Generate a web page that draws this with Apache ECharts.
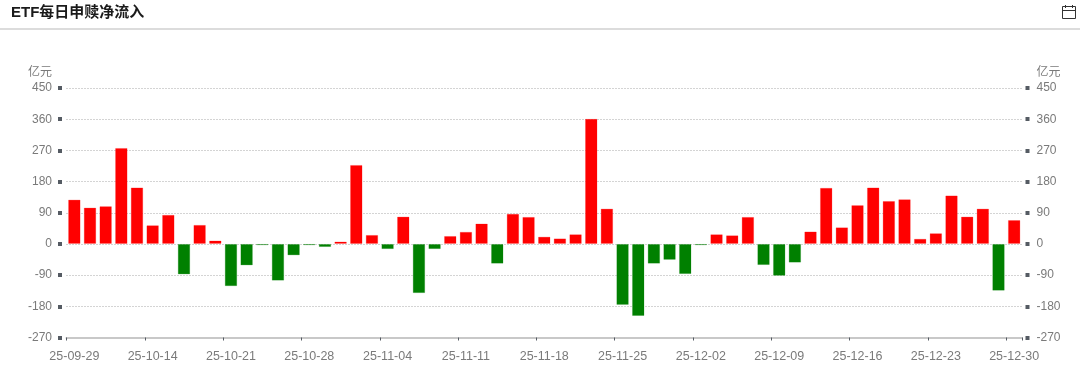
<!DOCTYPE html>
<html>
<head>
<meta charset="utf-8">
<style>html,body{margin:0;padding:0;background:#fff}#c{width:1080px;height:368px}</style>
<script src="https://cdn.jsdelivr.net/npm/echarts@6/dist/echarts.min.js"></script>
</head>
<body>
<div id="c"></div>
<script>
const dates = ['25-09-29','25-09-30','25-10-09','25-10-10','25-10-13','25-10-14','25-10-15','25-10-16','25-10-17','25-10-20','25-10-21','25-10-22','25-10-23','25-10-24','25-10-27','25-10-28','25-10-29','25-10-30','25-10-31','25-11-03','25-11-04','25-11-05','25-11-06','25-11-07','25-11-10','25-11-11','25-11-12','25-11-13','25-11-14','25-11-17','25-11-18','25-11-19','25-11-20','25-11-21','25-11-24','25-11-25','25-11-26','25-11-27','25-11-28','25-12-01','25-12-02','25-12-03','25-12-04','25-12-05','25-12-08','25-12-09','25-12-10','25-12-11','25-12-12','25-12-15','25-12-16','25-12-17','25-12-18','25-12-19','25-12-22','25-12-23','25-12-24','25-12-25','25-12-26','25-12-29','25-12-30'];
const netFlow = [128,105,109,277,163,54,84,-88,55,10,-122,-62,-4,-106,-33,-4,-9,7,228,26,-15,79,-142,-15,23,35,59,-57,87,78,21,16,28,361,102,-176,-208,-57,-46,-87,-4,28,25,78,-61,-92,-54,36,162,48,112,163,124,129,15,31,140,79,102,-135,69];
const unit = '亿元';
const titleText = 'ETF每日申赎净流入';
const upColor = '#ff0000', downColor = '#008000';
const upEdge = 'rgba(255,0,0,0.22)', downEdge = 'rgba(0,128,0,0.22)';
const font = '"Liberation Sans", "Noto Sans CJK SC", sans-serif';

function yAxis(position, offset, showSplit) {
  return {
    type: 'value', position, offset, min: -270, max: 450, interval: 90,
    name: unit,
    nameLocation: 'end', nameGap: 9,
    nameTextStyle: {color: '#7a7a7a', fontSize: 12, fontFamily: font,
      align: position === 'left' ? 'right' : 'left',
      padding: position === 'left' ? [0,10,0,0] : [0,0,0,11]},
    axisLine: {show: false},
    axisTick: {show: true, length: 4, lineStyle: {color: '#555b63', width: 4}},
    axisLabel: {color: '#7a7a7a', fontSize: 12, fontFamily: font, margin: position === 'left' ? 10 : 11},
    splitLine: {show: showSplit, lineStyle: {type: [1,2], color: '#a8a8a8', width: 1}}
  };
}

const chart = echarts.init(document.getElementById('c'), null, {renderer: 'canvas'});
chart.setOption({
  animation: false,
  backgroundColor: '#fff',
  grid: {left: 66.5, right: 58, top: 88, bottom: 30.5},
  xAxis: {
    type: 'category', data: dates,
    axisLine: {onZero: false, lineStyle: {color: '#c8c8c8', width: 2}},
    axisTick: {show: true, interval: 4, length: 3, lineStyle: {color: '#555b63', width: 1}},
    axisLabel: {interval: 4, color: '#7a7a7a', fontSize: 12.5, fontFamily: font, margin: 13, hideOverlap: false},
    splitLine: {show: false}
  },
  yAxis: [yAxis('left', 4.5, true), yAxis('right', 3.5, false)],
  series: [{
    type: 'bar', yAxisIndex: 0, barWidth: 12.5,
    data: netFlow.map(v => ({
      value: v,
      itemStyle: {color: v >= 0 ? upColor : downColor, borderWidth: 1, borderColor: v >= 0 ? upEdge : downEdge}
    }))
  }],
  graphic: [
    {type: 'text', left: 11, top: 5, style: {text: titleText, fontSize: 15, fontWeight: 'bold', fill: '#1a1a1a', fontFamily: font}},
    {type: 'rect', shape: {x: 0, y: 28, width: 1080, height: 2}, style: {fill: '#dcdcdc'}},
    {type: 'rect', shape: {x: 1062.5, y: 6.5, width: 13, height: 12}, style: {fill: 'none', stroke: '#333', lineWidth: 1}},
    {type: 'line', shape: {x1: 1062.5, y1: 10.5, x2: 1075.5, y2: 10.5}, style: {stroke: '#333', lineWidth: 1}},
    {type: 'line', shape: {x1: 1065.5, y1: 5, x2: 1065.5, y2: 8}, style: {stroke: '#333', lineWidth: 1}},
    {type: 'line', shape: {x1: 1072.5, y1: 5, x2: 1072.5, y2: 8}, style: {stroke: '#333', lineWidth: 1}}
  ]
});
</script>
</body>
</html>
